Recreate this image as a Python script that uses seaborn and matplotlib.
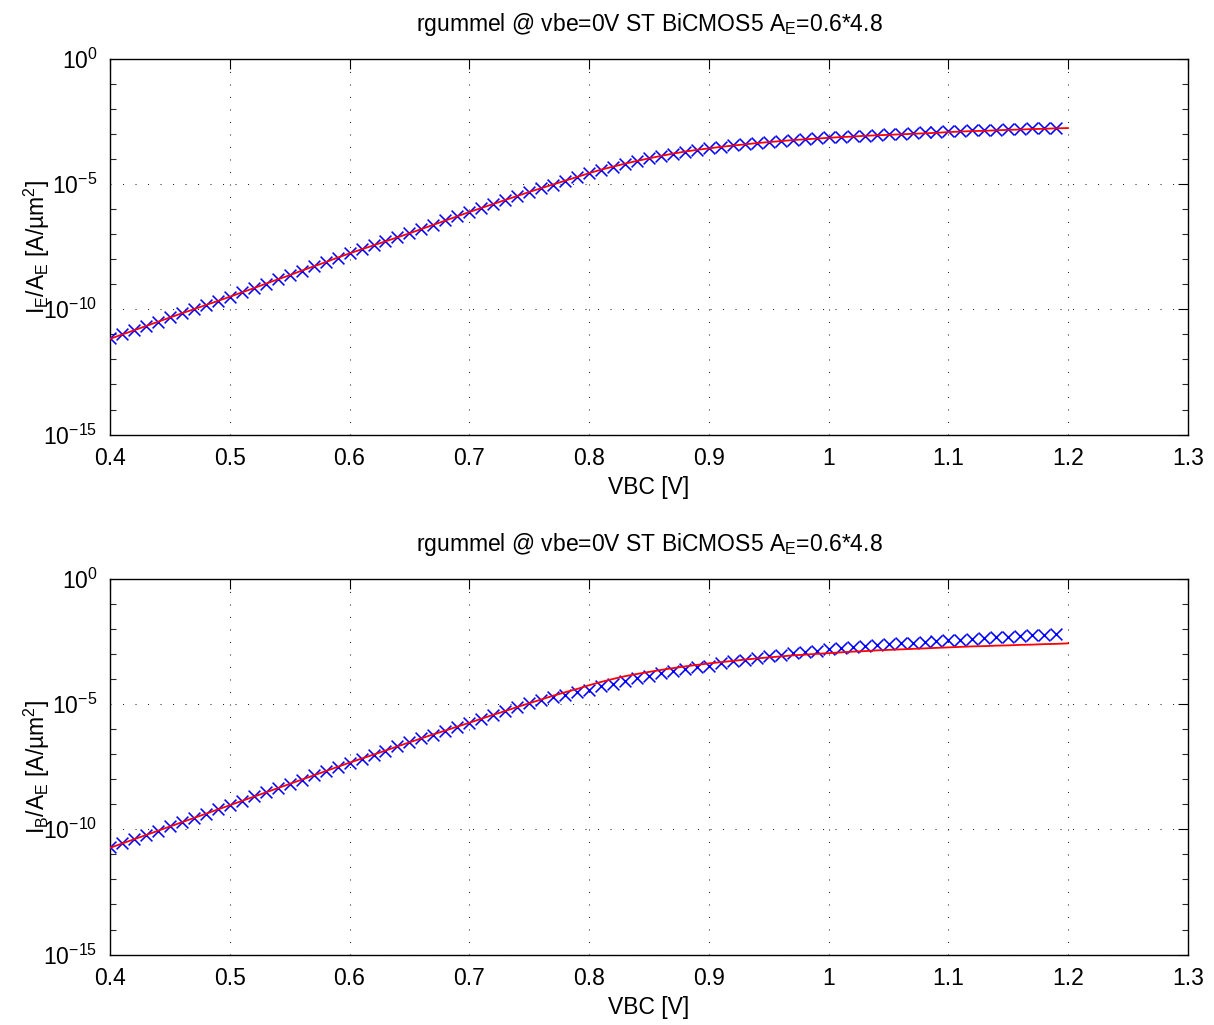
import numpy as np
import pandas as pd
import matplotlib
matplotlib.use("Agg")
import matplotlib.pyplot as plt
import matplotlib.ticker as mticker
import seaborn as sns

# ---------------- data (log10 of current density, A/um^2) ----------------
vbc_meas = [round(0.40 + 0.01 * i, 2) for i in range(80)]   # 0.40 .. 1.19
vbc_sim = [round(0.40 + 0.01 * i, 2) for i in range(81)]    # 0.40 .. 1.20

ie_meas_log = [
    -11.16, -10.99, -10.82, -10.65, -10.49, -10.32, -10.16, -9.99, -9.83, -9.66,
    -9.50, -9.33, -9.15, -8.98, -8.80, -8.63, -8.46, -8.29, -8.11, -7.94,
    -7.77, -7.61, -7.45, -7.29, -7.13, -6.97, -6.80, -6.63, -6.45, -6.28,
    -6.11, -5.95, -5.79, -5.63, -5.47, -5.31, -5.17, -5.03, -4.89, -4.73,
    -4.58, -4.43, -4.31, -4.20, -4.07, -3.98, -3.88, -3.80, -3.71, -3.63,
    -3.57, -3.51, -3.46, -3.41, -3.35, -3.31, -3.28, -3.24, -3.21, -3.17,
    -3.14, -3.12, -3.10, -3.07, -3.05, -3.02, -2.99, -2.97, -2.94, -2.92,
    -2.90, -2.88, -2.86, -2.85, -2.83, -2.82, -2.80, -2.78, -2.77, -2.75,
]
ie_sim_log = [
    -11.18, -11.01, -10.84, -10.67, -10.50, -10.33, -10.16, -10.00, -9.83, -9.67,
    -9.50, -9.33, -9.16, -8.98, -8.81, -8.64, -8.46, -8.29, -8.12, -7.94,
    -7.77, -7.61, -7.45, -7.29, -7.13, -6.97, -6.80, -6.63, -6.46, -6.29,
    -6.12, -5.96, -5.80, -5.64, -5.48, -5.32, -5.17, -5.02, -4.87, -4.72,
    -4.57, -4.43, -4.31, -4.19, -4.08, -3.98, -3.88, -3.79, -3.71, -3.64,
    -3.58, -3.52, -3.47, -3.42, -3.37, -3.33, -3.29, -3.25, -3.22, -3.19,
    -3.16, -3.13, -3.11, -3.08, -3.06, -3.04, -3.02, -3.00, -2.98, -2.96,
    -2.93, -2.91, -2.89, -2.88, -2.86, -2.84, -2.83, -2.81, -2.80, -2.78,
    -2.77,
]
ib_meas_log = [
    -10.72, -10.55, -10.38, -10.21, -10.05, -9.88, -9.71, -9.54, -9.37, -9.20,
    -9.03, -8.86, -8.69, -8.53, -8.36, -8.19, -8.02, -7.85, -7.68, -7.51,
    -7.34, -7.18, -7.02, -6.86, -6.69, -6.53, -6.37, -6.22, -6.06, -5.91,
    -5.75, -5.59, -5.44, -5.28, -5.12, -4.97, -4.85, -4.74, -4.63, -4.54,
    -4.44, -4.30, -4.20, -4.07, -3.96, -3.87, -3.78, -3.70, -3.60, -3.54,
    -3.47, -3.38, -3.30, -3.23, -3.17, -3.10, -3.04, -2.97, -2.91, -2.87,
    -2.82, -2.78, -2.74, -2.70, -2.65, -2.61, -2.58, -2.55, -2.52, -2.49,
    -2.46, -2.43, -2.40, -2.37, -2.34, -2.32, -2.29, -2.26, -2.23, -2.21,
]
ib_sim_log = [
    -10.74, -10.57, -10.40, -10.23, -10.06, -9.89, -9.72, -9.55, -9.38, -9.21,
    -9.04, -8.87, -8.70, -8.53, -8.36, -8.19, -8.02, -7.85, -7.68, -7.51,
    -7.34, -7.18, -7.02, -6.86, -6.69, -6.53, -6.37, -6.21, -6.06, -5.90,
    -5.75, -5.59, -5.43, -5.28, -5.12, -4.97, -4.82, -4.67, -4.53, -4.40,
    -4.25, -4.12, -4.00, -3.89, -3.80, -3.72, -3.64, -3.57, -3.50, -3.44,
    -3.38, -3.33, -3.28, -3.23, -3.18, -3.14, -3.10, -3.06, -3.03, -3.00,
    -2.97, -2.94, -2.91, -2.89, -2.86, -2.84, -2.82, -2.80, -2.78, -2.76,
    -2.74, -2.72, -2.70, -2.69, -2.67, -2.66, -2.64, -2.63, -2.61, -2.60,
    -2.58,
]

title_text = r"rgummel @ vbe=0V ST BiCMOS5 A$_\mathrm{E}$=0.6*4.8"
ylabels = [r"I$_\mathrm{E}$/A$_\mathrm{E}$ [A/µm$^\mathrm{2}$]",
           r"I$_\mathrm{B}$/A$_\mathrm{E}$ [A/µm$^\mathrm{2}$]"]
xlabel_text = "VBC [V]"
xticks = [0.4, 0.5, 0.6, 0.7, 0.8, 0.9, 1.0, 1.1, 1.2, 1.3]
xtick_labels = ["0.4", "0.5", "0.6", "0.7", "0.8", "0.9", "1", "1.1", "1.2", "1.3"]

# ---------------- style ----------------
sns.set_theme(style="white")
plt.rcParams["font.family"] = ["Liberation Sans", "DejaVu Sans"]
plt.rcParams["mathtext.fontset"] = "custom"
plt.rcParams["mathtext.rm"] = "Liberation Sans"
plt.rcParams["mathtext.it"] = "Liberation Sans:italic"
plt.rcParams["mathtext.bf"] = "Liberation Sans:bold"
plt.rcParams["axes.unicode_minus"] = True

fig = plt.figure(figsize=(12.14, 10.25), dpi=100)
ax_top = fig.add_axes([0.0906, 0.5760, 0.8880, 0.3668])
ax_bot = fig.add_axes([0.0906, 0.0687, 0.8880, 0.3667])

panels = [
    (ax_top, ie_meas_log, ie_sim_log, ylabels[0]),
    (ax_bot, ib_meas_log, ib_sim_log, ylabels[1]),
]

for ax, meas_log, sim_log, ylab in panels:
    df_meas = pd.DataFrame({"vbc": vbc_meas, "j": np.power(10.0, meas_log)})
    df_sim = pd.DataFrame({"vbc": vbc_sim, "j": np.power(10.0, sim_log)})
    ax.set_yscale("log")
    sns.scatterplot(data=df_meas, x="vbc", y="j", marker="x", color="#0000ff",
                    s=72, linewidth=1.15, ax=ax, zorder=3)
    sns.lineplot(data=df_sim, x="vbc", y="j", color="#ff0000", linewidth=1.3,
                 ax=ax, zorder=4, estimator=None, sort=False)

    ax.set_xlim(0.4, 1.3)
    ax.set_ylim(1e-15, 1e0)
    ax.set_xticks(xticks)
    ax.set_xticklabels(xtick_labels)
    ax.yaxis.set_major_locator(mticker.FixedLocator([1e-15, 1e-10, 1e-5, 1e0]))
    ax.yaxis.set_minor_locator(mticker.FixedLocator([10.0 ** k for k in range(-15, 1)]))
    ax.yaxis.set_major_formatter(mticker.LogFormatterSciNotation())
    ax.yaxis.set_minor_formatter(mticker.NullFormatter())

    ax.grid(True, which="major", color="0.15", linestyle=(0, (1, 11)), linewidth=0.75)
    ax.grid(False, which="minor")

    ax.tick_params(axis="both", which="major", direction="in", length=7, width=0.8,
                   labelsize=16.5, colors="black", top=True, right=True, pad=9)
    ax.tick_params(axis="y", which="minor", direction="in", length=4, width=0.8,
                   left=True, right=True)
    ax.tick_params(axis="x", which="minor", bottom=False, top=False)
    for sp in ax.spines.values():
        sp.set_visible(True)
        sp.set_color("black")
        sp.set_linewidth(1.0)

    ax.set_title(title_text, fontsize=16.5, pad=20, color="black")
    ax.set_xlabel(xlabel_text, fontsize=16.5, color="black", labelpad=4)
    ax.set_ylabel(ylab, fontsize=16.5, color="black")
    ax.yaxis.set_label_coords(-0.054, 0.5)

fig.savefig("out.png", dpi=100, facecolor="white")
